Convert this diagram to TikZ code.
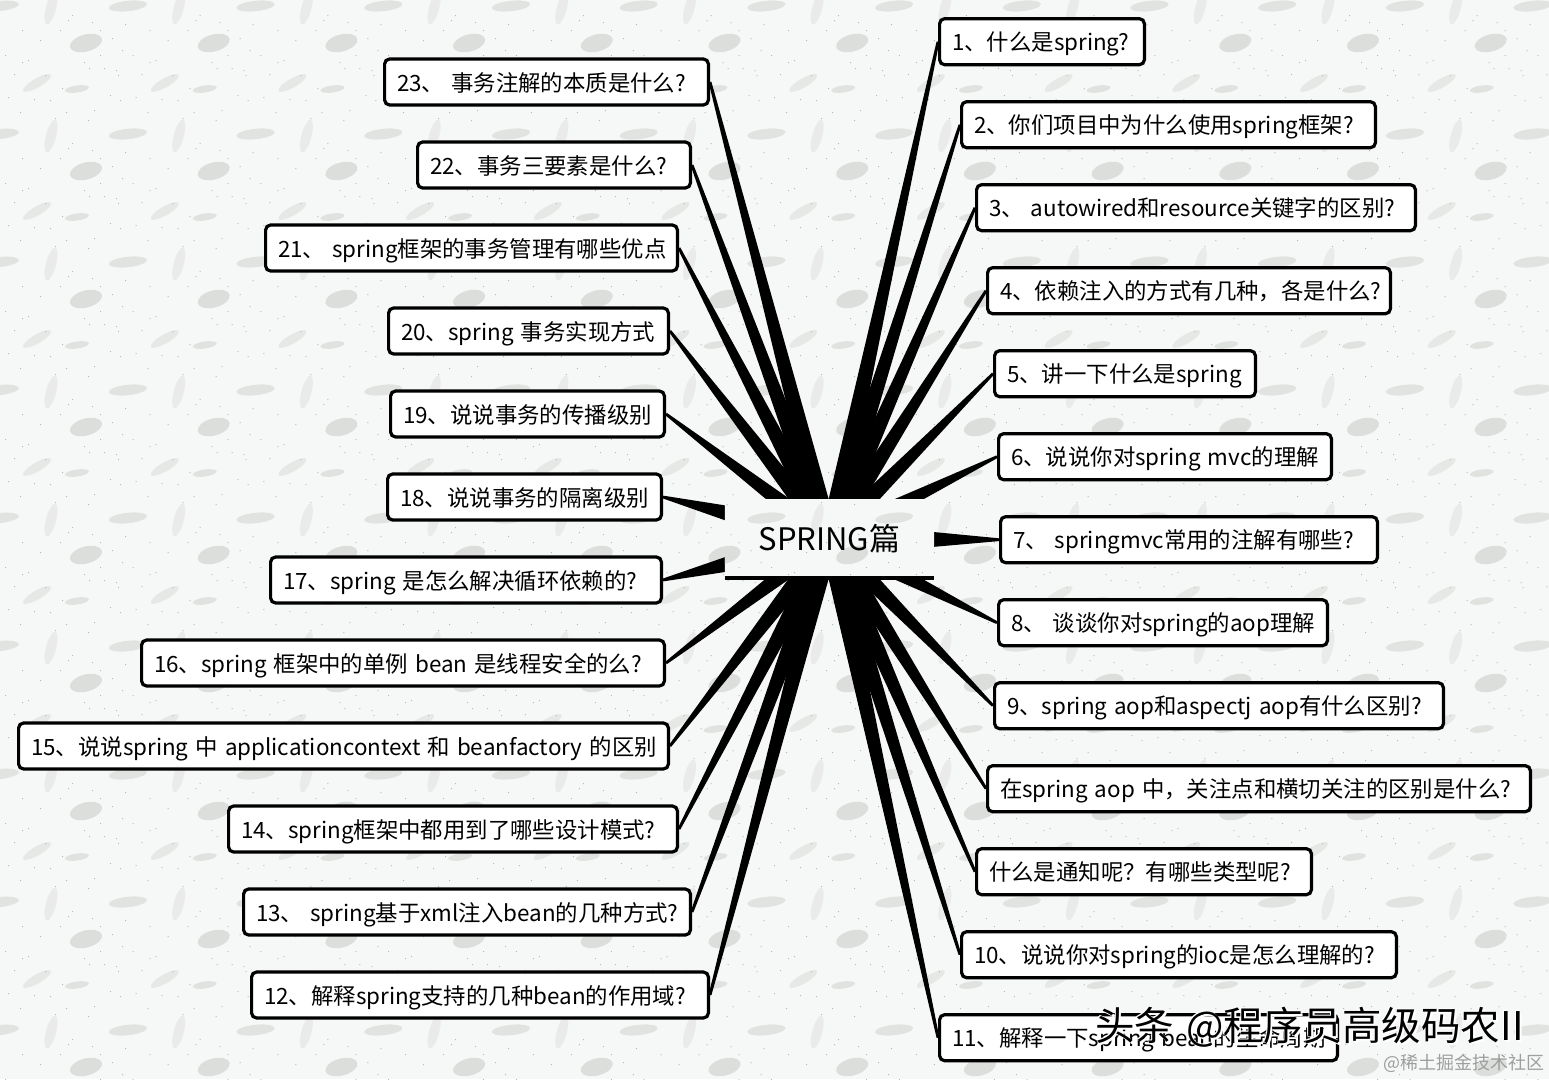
\documentclass[tikz,border=0pt]{standalone}
\usepackage{fontspec}
\setmainfont[WordSpace=1.4]{Noto Sans CJK SC}
\usetikzlibrary{calc}
\definecolor{paper}{HTML}{F6F7F7}
\definecolor{blobA}{HTML}{DCDEDB}
\definecolor{blobB}{HTML}{E6E8E6}
\definecolor{blobC}{HTML}{E0E2E0}
\definecolor{blobD}{HTML}{E1E3E0}
\definecolor{blobE}{HTML}{E9EAE9}
\definecolor{speck}{HTML}{B8BAB8}
\pgfdeclarelayer{paperlayer}
\pgfdeclarelayer{spokelayer}
\pgfdeclarelayer{windowlayer}
\pgfsetlayers{paperlayer,spokelayer,windowlayer,main}
\tikzset{
  topic/.style={draw=black,fill=white,line width=3.2pt,rounded corners=5pt,inner sep=0pt,minimum height=46pt,font=\fontsize{22.4pt}{26pt}\selectfont,text=black},
  hubbox/.style={minimum width=209pt,minimum height=78pt,inner sep=0pt,font=\fontsize{31pt}{36pt}\selectfont,text=black},
  spokefill/.style={fill=black},
  mark text/.style={anchor=west,inner sep=0pt,font=\fontsize{39.5pt}{42pt}\selectfont},
}
% background tile, 128 x 128
\newcommand\papertile{%
  \fill[blobA,rotate around={15:(86,43)}] (86,43) ellipse [x radius=16.5,y radius=8.5];
  \fill[blobB,rotate around={30:(37,83)}] (37,83) ellipse [x radius=16,y radius=4.5];
  \fill[blobC,rotate around={8:(77,89)}] (77,89) ellipse [x radius=12,y radius=3.5];
  \fill[blobD,rotate around={6:(128,6)}] (128,6) ellipse [x radius=19,y radius=5];
  \fill[blobD,rotate around={6:(0,6)}] (0,6) ellipse [x radius=19,y radius=5];
  \fill[blobE,rotate around={75:(51,8)}] (51,8) ellipse [x radius=17,y radius=5];
  \fill[speck] (122,50) rectangle +(1,1) (84,62) rectangle +(1,1) (89,68) rectangle +(1,1) (116,70) rectangle +(1,1) (118,75) rectangle +(1,1) (5,55) rectangle +(1,1) (22,62) rectangle +(1,1) (45,75) rectangle +(1,1) (62,88) rectangle +(1,1) (100,55) rectangle +(1,1) (8,97) rectangle +(1,1) (34,99) rectangle +(1,1) (94,110) rectangle +(1,1) (68,20) rectangle +(1,1) (72,15) rectangle +(1,1) (92,22) rectangle +(1,1) (125,24) rectangle +(1,1) (22,30) rectangle +(1,1) (110,95) rectangle +(1,1) (55,118) rectangle +(1,1) (88,120) rectangle +(1,1) (14,74) rectangle +(1,1) (28,60) rectangle +(1,1) (104,68) rectangle +(1,1) (50,100) rectangle +(1,1) (66,112) rectangle +(1,1) (20,112) rectangle +(1,1) (120,100) rectangle +(1,1) (40,40) rectangle +(1,1) (60,30) rectangle +(1,1) (100,30) rectangle +(1,1) (112,38) rectangle +(1,1);
}
\newcommand\paperall[2]{%
  \fill[paper] (0,0) rectangle (1549,1079);
  \foreach \tx in {#1}{%
    \foreach \ty in {#2}{%
      \begin{scope}[shift={(\tx*127.7,\ty*128)}]\papertile\end{scope}%
    }%
  }%
}
% tapered connector from the hub to a node: {half width at the hub}{end point}
\newcommand\spoke[2]{%
  \fill[spokefill] ($(hub.center)!#1pt!90:(#2)$) -- ($(#2)!1.4pt!-90:(hub.center)$) -- ($(#2)!1.4pt!90:(hub.center)$) -- ($(hub.center)!#1pt!-90:(#2)$) -- cycle;}
% \topicnode{name}{x1}{x2}{ymid}{text}
\newcommand\topicnode[5]{%
  \pgfmathsetmacro\nw{#3-#2-3.2}%
  \pgfmathsetmacro\tw{#3-#2-28}%
  \node[topic,minimum width=\nw pt] (#1) at ({(#2+#3)/2},#4) {\raisebox{0pt}[20pt][2pt]{\makebox[\tw pt][l]{#5}}};}
\begin{document}
\begin{tikzpicture}[x=1pt,y=-1pt]
\useasboundingbox (0,0) rectangle (1549,1079);
\begin{pgfonlayer}{paperlayer}
\paperall{0,...,12}{0,...,8}
\end{pgfonlayer}
\node[hubbox] (hub) at (829.5,539) {\raisebox{0pt}[24pt][2pt]{SPRING篇}};
\draw[line width=4pt] (hub.south west) -- (hub.south east);
% topics
\topicnode{a1}{938}{1146}{41.7}{1、什么是spring?}
\topicnode{a2}{960}{1377}{124.7}{2、你们项目中为什么使用spring框架?}
\topicnode{a3}{975}{1417}{207.7}{3、 autowired和resource关键字的区别?}
\topicnode{a4}{986}{1392}{290.7}{4、依赖注入的方式有几种，各是什么?}
\topicnode{a5}{993}{1257}{373.7}{5、讲一下什么是spring}
\topicnode{a6}{997}{1333}{456.7}{6、说说你对spring mvc的理解}
\topicnode{a7}{999}{1379}{539.7}{7、 springmvc常用的注解有哪些?}
\topicnode{a8}{997}{1329}{622.7}{8、 谈谈你对spring的aop理解}
\topicnode{a9}{993}{1445}{705.7}{9、spring aop和aspectj aop有什么区别?}
\topicnode{aop}{986}{1532}{788.7}{在spring aop 中，关注点和横切关注的区别是什么?}
\topicnode{tz}{975}{1313}{871.7}{什么是通知呢？有哪些类型呢?}
\topicnode{a10}{960}{1398}{954.7}{10、说说你对spring的ioc是怎么理解的?}
\topicnode{a11}{938}{1339}{1037.7}{11、解释一下spring bean的生命周期}
\topicnode{a23}{383}{710}{82}{23、 事务注解的本质是什么?}
\topicnode{a22}{416}{692}{165}{22、事务三要素是什么?}
\topicnode{a21}{264}{679}{248}{21、 spring框架的事务管理有哪些优点}
\topicnode{a20}{387}{670}{331}{20、spring 事务实现方式}
\topicnode{a19}{389}{666}{414}{19、说说事务的传播级别}
\topicnode{a18}{386}{663}{497}{18、说说事务的隔离级别}
\topicnode{a17}{269}{663}{580}{17、spring 是怎么解决循环依赖的?}
\topicnode{a16}{140}{666}{663}{16、spring 框架中的单例 bean 是线程安全的么?}
\topicnode{a15}{17}{670}{746}{15、说说spring 中 applicationcontext 和 beanfactory 的区别}
\topicnode{a14}{227}{679}{829}{14、spring框架中都用到了哪些设计模式?}
\topicnode{a13}{242}{692}{912}{13、 spring基于xml注入bean的几种方式?}
\topicnode{a12}{250}{710}{995}{12、解释spring支持的几种bean的作用域?}
% connectors
\begin{pgfonlayer}{spokelayer}
\foreach \n/\w in {a1/10,a2/10,a3/10,a4/10,a5/10,a6/11,a7/17,a8/11,a9/10,aop/10,tz/10,a10/10,a11/10}{\spoke{\w}{\n.west}}
\foreach \n/\w in {a23/10,a22/10,a21/10,a20/10,a19/10,a18/17,a17/17,a16/10,a15/10,a14/10,a13/10,a12/10}{\spoke{\w}{\n.east}}
\end{pgfonlayer}
% hub window shows the paper through
\begin{pgfonlayer}{windowlayer}
\begin{scope}
\clip (hub.south west) rectangle (hub.north east);
\paperall{5,6,7}{3,4}
\end{scope}
\end{pgfonlayer}
% watermarks
\node[mark text,text=white] (wm0) at (1094,1026) {头条 @程序员高级码农II};
\node[mark text,text=white] (wm1) at (1097,1029) {头条 @程序员高级码农II};
\node[mark text,text=black] (wm2) at (1095,1027) {头条 @程序员高级码农II};
\node[anchor=east,inner sep=0pt,text=black!38,font=\fontsize{18pt}{20pt}\selectfont] (wm3) at (1545,1063) {@稀土掘金技术社区};
\end{tikzpicture}
\end{document}
